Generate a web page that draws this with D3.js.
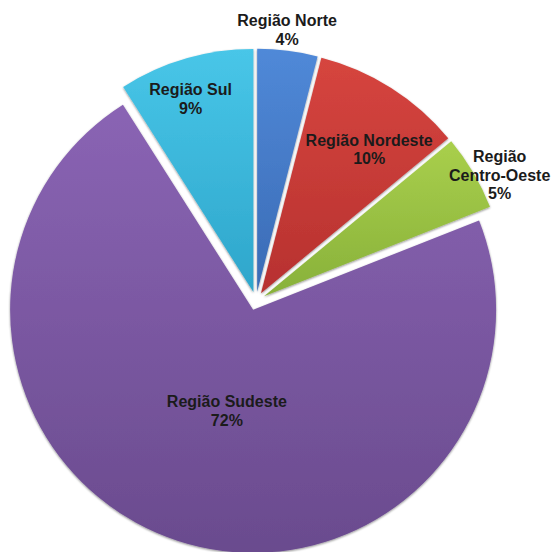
<!DOCTYPE html>
<html>
<head>
<meta charset="utf-8">
<script src="https://cdn.jsdelivr.net/npm/d3@7"></script>
<style>
  html, body { margin: 0; padding: 0; background: #ffffff; }
  svg { display: block; }
  text { font-family: "Liberation Sans", Arial, sans-serif; font-weight: bold; font-size: 16px; fill: #1b1b1b; }
</style>
</head>
<body>
<div id="chart"></div>
<script>
// ---- Data ----
const regions = ["Região Norte", "Região Nordeste", "Região Centro-Oeste", "Região Sudeste", "Região Sul"];
const shares = [4, 10, 5, 72, 9];
const labelLines = [["Região Norte"], ["Região Nordeste"], ["Região", "Centro-Oeste"], ["Região Sudeste"], ["Região Sul"]];

// ---- Styles / layout ----
const colorTop = ["#5089d8", "#d6453f", "#a9cf4c", "#8a64b4", "#48c6e8"];
const colorBottom = ["#3a6bb5", "#b7312f", "#88b13a", "#6a4b8e", "#2ea6cb"];
const labelRadiusFactor = [1.085, 0.74, 1.09, 0.43, 0.835];
const labelAngleShift = [-0.012, 0.08, 0.06, -0.06, -0.032];

const W = 553, H = 552;
const cx = 256, cy = 301, R = 243, explode = 9.3;

const svg = d3.select("#chart").append("svg").attr("width", W).attr("height", H);
const defs = svg.append("defs");

const f = defs.append("filter").attr("id", "shadow").attr("x", "-10%").attr("y", "-10%").attr("width", "120%").attr("height", "120%");
f.append("feDropShadow").attr("dx", 0).attr("dy", 1).attr("stdDeviation", 1.2).attr("flood-color", "#000").attr("flood-opacity", 0.45);

regions.forEach((r, i) => {
  const g = defs.append("linearGradient").attr("id", "grad" + i).attr("x1", 0).attr("y1", 0).attr("x2", 0).attr("y2", 1);
  g.append("stop").attr("offset", "0%").attr("stop-color", colorTop[i]);
  g.append("stop").attr("offset", "100%").attr("stop-color", colorBottom[i]);
});

const pie = d3.pie().sort(null).value(d => d)(shares);
const arc = d3.arc().innerRadius(0).outerRadius(R);

const root = svg.append("g").attr("transform", `translate(${cx},${cy})`);

const slices = root.selectAll("g.slice").data(pie).join("g")
  .attr("class", "slice")
  .attr("transform", d => {
    const a = (d.startAngle + d.endAngle) / 2;
    return `translate(${explode * Math.sin(a)},${-explode * Math.cos(a)})`;
  });

slices.append("path")
  .attr("d", arc)
  .attr("fill", (d, i) => `url(#grad${i})`)
  .attr("filter", "url(#shadow)");

// Labels
slices.each(function (d, i) {
  const a = (d.startAngle + d.endAngle) / 2 + labelAngleShift[i];
  const rr = R * labelRadiusFactor[i];
  const x = rr * Math.sin(a), y = -rr * Math.cos(a);
  const lines = labelLines[i].concat([shares[i] + "%"]);
  const lh = 18.5;
  const t = d3.select(this).append("text")
    .attr("text-anchor", "middle")
    .attr("x", x)
    .attr("y", y - (lines.length - 1) * lh / 2 + 5.5);
  lines.forEach((ln, k) => {
    t.append("tspan").attr("x", x).attr("dy", k === 0 ? 0 : lh).text(ln);
  });
});
</script>
</body>
</html>
